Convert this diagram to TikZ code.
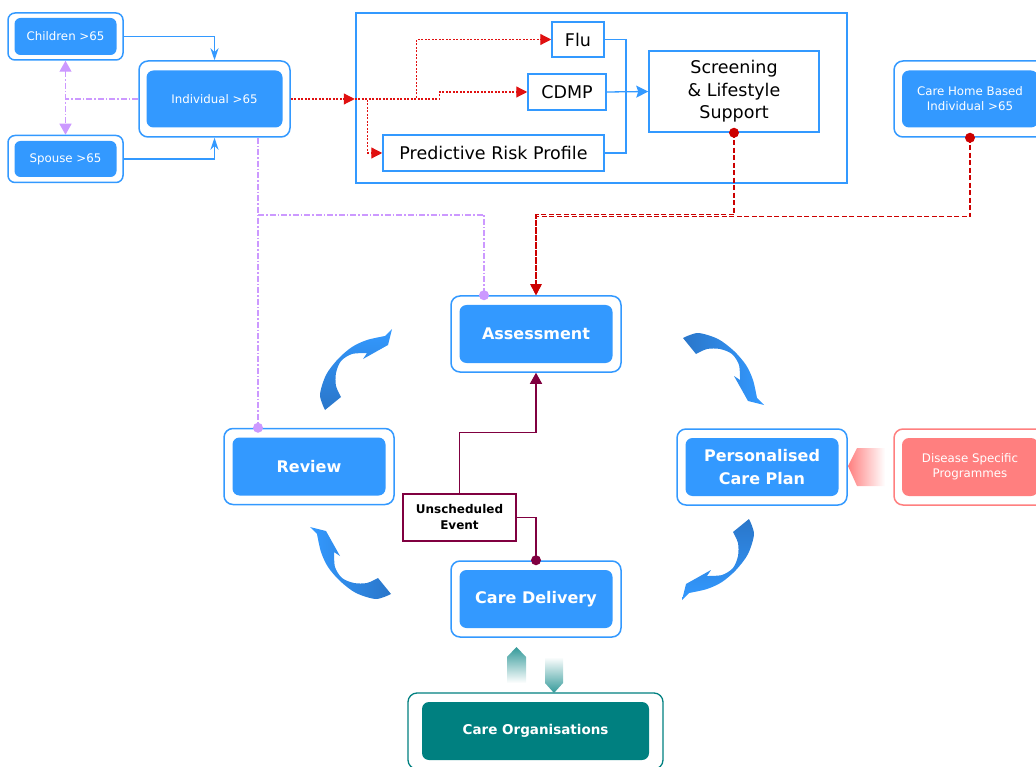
\documentclass[tikz,border=0pt]{standalone}
\usepackage{fontspec}
\setmainfont{DejaVu Sans}
\usetikzlibrary{arrows.meta,calc}

\definecolor{boxblue}{HTML}{3399FF}
\definecolor{arrowdark}{HTML}{2A76C9}
\definecolor{linkred}{HTML}{CC0000}
\definecolor{dotred}{HTML}{E01010}
\definecolor{lilac}{HTML}{CC99FF}
\definecolor{wine}{HTML}{800040}
\definecolor{tealc}{HTML}{008080}
\definecolor{salmon}{HTML}{FF7F7F}

% curved cycle arrow: #1 tail position, #2 rotation, #3 shading keys
\newcommand{\turnarrow}[3]{%
  \begin{scope}[shift={#1},rotate=#2]
    \shade[#3]
      plot[smooth] coordinates {(-7,7) (-12,-8) (-6,-28) (6,-44) (20,-56) (35,-63) (53,-67)}
      -- (60,-74) -- (56,-58) -- (31,-44)
      -- plot[smooth] coordinates {(35,-50) (20,-49) (9,-42) (4,-30) (4,-17) (9,-6)}
      -- cycle;
  \end{scope}}

\begin{document}
\begin{tikzpicture}[x=1pt,y=-1pt,
  frame/.style={draw=boxblue, line width=1.5pt, rounded corners=9pt, fill=white, inner sep=0pt},
  core/.style={fill=boxblue, rounded corners=7pt, text=white, align=center, inner sep=0pt},
  plainbox/.style={draw=boxblue, line width=1.5pt, fill=white, align=center, inner sep=0pt, text=black,
    font=\fontsize{17.5}{22.5}\selectfont},
  smalltext/.style={font=\fontsize{11.8}{15}\selectfont},
  bigtext/.style={font=\fontsize{16}{23}\bfseries\selectfont},
  blueline/.style={draw=boxblue, line width=1.3pt},
  bluetip/.style={-{Stealth[length=12pt,width=8pt,inset=4pt]}},
  reddot/.style={draw=dotred, line width=1.2pt, dash pattern=on 2pt off 1.5pt},
  reddash/.style={draw=linkred, line width=1.5pt, dash pattern=on 5pt off 2.5pt},
  redtip/.style={-{Triangle[length=11pt,width=11pt]}},
  lilacline/.style={draw=lilac, line width=1.2pt, dash pattern=on 6pt off 2pt on 1.5pt off 2pt},
  lilactip/.style={{Triangle[length=11pt,width=12pt]}-{Triangle[length=11pt,width=12pt]}},
  wineline/.style={draw=wine, line width=1.3pt},
]
\useasboundingbox (0,0) rectangle (1036,767);

% ---------- people ----------
\node[frame, minimum width=115, minimum height=47, rounded corners=7pt] (child) at (65.5,36.5) {};
\node[core, minimum width=102, minimum height=37, rounded corners=6pt, smalltext] (childIn) at (child) {Children >65};

\node[frame, minimum width=115, minimum height=47, rounded corners=7pt] (spouse) at (65.5,159) {};
\node[core, minimum width=102, minimum height=36, rounded corners=6pt, smalltext] (spouseIn) at (spouse) {Spouse >65};

\node[frame, minimum width=151, minimum height=76] (indiv) at (214.5,99) {};
\node[core, minimum width=136, minimum height=57, smalltext] (indivIn) at (indiv) {Individual >65};

\node[frame, minimum width=152, minimum height=76] (home) at (970,99) {};
\node[core, minimum width=136, minimum height=57, smalltext] (homeIn) at (home) {Care Home Based\\Individual >65};

% ---------- prevention group ----------
\node[draw=boxblue, line width=2.5pt, minimum width=491, minimum height=170, inner sep=0pt] (grp) at (601.5,98) {};
\node[plainbox, minimum width=52, minimum height=35] (flu) at (578,39.5) {Flu};
\node[plainbox, minimum width=78, minimum height=36] (cdmp) at (567,92) {CDMP};
\node[plainbox, minimum width=221, minimum height=36] (prp) at (493.5,153) {Predictive Risk Profile};
\node[plainbox, minimum width=170, minimum height=81] (screen) at (734,91.5) {Screening\\\& Lifestyle\\Support};

% ---------- care cycle ----------
\node[frame, minimum width=170, minimum height=76] (assess) at (536,334) {};
\node[core, minimum width=153, minimum height=58, bigtext] (assessIn) at (assess) {Assessment};

\node[frame, minimum width=170, minimum height=76] (review) at (309,466.5) {};
\node[core, minimum width=153, minimum height=58, bigtext] (reviewIn) at (review) {Review};

\node[frame, minimum width=170, minimum height=76] (plan) at (762,467) {};
\node[core, minimum width=153, minimum height=58, bigtext] (planIn) at (plan) {Personalised\\Care Plan};

\node[frame, minimum width=170, minimum height=76] (deliv) at (536,599) {};
\node[core, minimum width=153, minimum height=58, bigtext] (delivIn) at (deliv) {Care Delivery};

\node[frame, draw=salmon, minimum width=152, minimum height=76] (disease) at (970,467) {};
\node[core, fill=salmon, minimum width=136, minimum height=58, smalltext] (diseaseIn) at (disease) {Disease Specific\\Programmes};

\node[frame, draw=tealc, line width=1.3pt, minimum width=255, minimum height=76] (org) at (535.5,731) {};
\node[core, fill=tealc, minimum width=227, minimum height=58, font=\fontsize{13.5}{16}\bfseries\selectfont] (orgIn) at (org) {Care Organisations};

\node[draw=wine, line width=1.3pt, fill=white, minimum width=113, minimum height=47, inner sep=0pt,
  align=center, font=\fontsize{12}{16}\bfseries\selectfont] (unsch) at (459.5,517.5) {Unscheduled\\Event};

% ---------- family links ----------
\draw[blueline, bluetip] (child.east) -| (indiv.north);
\draw[blueline, bluetip] (spouse.east) -| (indiv.south);
\draw[lilacline] (indiv.west) -- (indiv.west -| child.south);
\draw[lilacline, lilactip] (child.south) -- (spouse.north);

% ---------- into the prevention group ----------
\coordinate (hub) at (indiv.east -| grp.west);
\draw[reddot, redtip] (indiv.east) -- (hub);
\draw[reddot, redtip] (hub) -- ++(62,0) |- (flu.west);
\draw[reddot, redtip] (hub) -- ++(85,0) |- (cdmp.west);
\draw[reddot, redtip] (hub) -- ++(13,0) |- (prp.west);

\coordinate (join) at (626,92);
\draw[blueline] (flu.east) -| (join);
\draw[blueline] (prp.east) -| (join);
\draw[blueline, -{Stealth[length=12pt,width=12pt,inset=2pt]}] (cdmp.east) -- (screen.west);

% ---------- referrals to assessment ----------
\draw[reddash, redtip] (screen.south) -- ++(0,82) -| (assess.north);
\draw[reddash, redtip] (home.south) -- ++(0,79) -| (assess.north);
\fill[linkred] (screen.south) circle (5);
\fill[linkred] (home.south) circle (5);

\coordinate (pv) at (258,215);
\coordinate (pa) at (484,215);
\draw[lilacline] (pv |- indiv.south) -- (pv |- review.north);
\draw[lilacline] (pv) -- (pa) -- (pa |- assess.north);
\fill[lilac] (pa |- assess.north) circle (5);
\fill[lilac] (pv |- review.north) circle (5);

% ---------- unscheduled event ----------
\draw[wineline, -{Triangle[length=11pt,width=12pt]}] (unsch.north) -- ++(0,-61) -| (assess.south);
\draw[wineline] (unsch.east) -| (deliv.north);
\fill[wine] (deliv.north) circle (5);

% ---------- cycle arrows ----------
\turnarrow{(332,403)}{0}{bottom color=arrowdark, top color=boxblue}
\turnarrow{(690,345)}{-90}{left color=arrowdark, right color=boxblue}
\turnarrow{(742,526)}{-180}{top color=arrowdark, bottom color=boxblue}
\turnarrow{(384,587)}{90}{right color=arrowdark, left color=boxblue}

% ---------- programme and organisation exchanges ----------
\shade[left color=salmon, right color=white]
  (848,466) -- (857,448) -- (885,448) -- (885,486) -- (857,486) -- cycle;
\shade[top color=tealc!80, bottom color=white]
  (507,683) -- (507,657) -- (516.5,647) -- (526,657) -- (526,683) -- cycle;
\shade[top color=white, bottom color=tealc!80]
  (545,657) -- (563,657) -- (563,683) -- (554,693) -- (545,683) -- cycle;
\end{tikzpicture}
\end{document}
